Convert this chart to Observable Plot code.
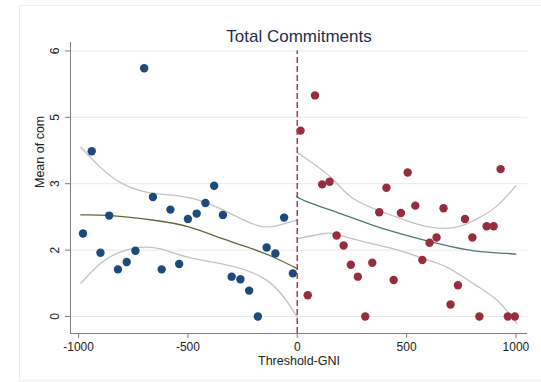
<!DOCTYPE html>
<html>
<head>
<meta charset="utf-8">
<script src="https://cdn.jsdelivr.net/npm/d3@7"></script>
<script src="https://cdn.jsdelivr.net/npm/@observablehq/plot@0.6"></script>
<style>
  html, body { margin: 0; padding: 0; background: #fff; }
  #wrap { position: relative; width: 541px; height: 382px; overflow: hidden; }
  #border { position: absolute; left: 19px; top: 5px; width: 540px; height: 376px; border: 1px solid #e9eef3; box-sizing: border-box; pointer-events: none; }
</style>
</head>
<body>
<div id="wrap"><div id="border"></div></div>
<script>
// ---- data (y values in axis-grid units; labels below) ----
const titleText = "Total Commitments";
const xLabel = "Threshold-GNI";
const yLabel = "Mean of com";

const xTicks = [-1000, -500, 0, 500, 1000];
const yTicks = [0, 1, 2, 3, 4];
const yTickLabels = ["0", "2", "3", "5", "6"];

const leftX = [-980, -940, -900, -860, -820, -780, -740, -700, -660, -620, -580, -540, -500, -460, -420, -380, -340, -300, -260, -220, -180, -140, -100, -60, -20];
const leftY = [1.25, 2.49, 0.96, 1.52, 0.71, 0.82, 0.99, 3.74, 1.80, 0.71, 1.61, 0.79, 1.47, 1.55, 1.71, 1.97, 1.53, 0.60, 0.56, 0.39, 0.00, 1.04, 0.95, 1.49, 0.65];

const rightX = [15, 48, 81, 114, 148, 180, 212, 245, 277, 311, 343, 375, 408, 441, 474, 505, 540, 572, 605, 637, 669, 701, 735, 767, 801, 833, 866, 898, 930, 963, 995];
const rightY = [2.80, 0.32, 3.33, 1.99, 2.03, 1.22, 1.07, 0.78, 0.60, 0.00, 0.81, 1.57, 1.94, 0.55, 1.56, 2.17, 1.67, 0.85, 1.11, 1.19, 1.63, 0.18, 0.47, 1.47, 1.19, 0.00, 1.36, 1.36, 2.22, 0.00, 0.00];

const leftFitX = [-990, -855, -656, -497, -339, -181, -92, 0];
const leftFitY = [1.53, 1.52, 1.45, 1.35, 1.17, 0.99, 0.87, 0.72];
const leftUpX = [-990, -901, -810, -686, -549, -420, -305, -182, -91, 0];
const leftUpY = [2.55, 2.25, 2.02, 1.87, 1.82, 1.72, 1.55, 1.37, 1.37, 1.45];
const leftLoX = [-990, -900, -810, -720, -626, -497, -339, -229, -137, -61, 0];
const leftLoY = [0.50, 0.80, 0.97, 1.04, 1.02, 0.89, 0.79, 0.69, 0.54, 0.29, -0.01];

const rightFitX = [0, 30, 197, 350, 503, 655, 808, 960, 1000];
const rightFitY = [1.82, 1.75, 1.55, 1.37, 1.22, 1.09, 0.99, 0.95, 0.94];
const rightUpX = [0, 152, 259, 427, 549, 640, 732, 823, 915, 1000];
const rightUpY = [2.47, 2.10, 1.77, 1.53, 1.39, 1.33, 1.35, 1.47, 1.67, 1.97];
const rightLoX = [0, 122, 198, 351, 473, 579, 686, 808, 915, 1006];
const rightLoY = [1.17, 1.25, 1.22, 1.09, 0.99, 0.87, 0.74, 0.49, 0.24, -0.11];

const cutoff = [0];
const dashTop = 4.0;

// ---- build ----
const pts = (xs, ys) => xs.map((x, i) => ({x, y: ys[i]}));
const xDomain = [-1037, 1053];
const yDomain = [-0.256, 4.127];

const axisColor = "#7d7d7d";
const ciColor = "#c3c3c3";
const font = "'Liberation Sans', Arial, sans-serif";

const chart = Plot.plot({
  width: 541,
  height: 382,
  marginLeft: 70,
  marginRight: 14,
  marginTop: 42,
  marginBottom: 49,
  x: {domain: xDomain},
  y: {domain: yDomain},
  style: {fontFamily: font, fontSize: "12px", background: "transparent", color: "#222"},
  marks: [
    Plot.gridY(yTicks, {stroke: "#e9e9e9", strokeOpacity: 1, strokeWidth: 1}),
    Plot.ruleX([xDomain[0]], {stroke: axisColor, strokeWidth: 1}),
    Plot.ruleY([yDomain[0]], {stroke: axisColor, strokeWidth: 1}),
    Plot.axisX(xTicks, {tickSize: 5, tickPadding: 4, stroke: axisColor, tickFormat: d => String(d), label: null, fill: "#222", fontSize: 12}),
    Plot.axisY(yTicks, {tickSize: 5, tickPadding: 7, tickRotate: -90, stroke: axisColor, tickFormat: d => yTickLabels[d], label: null, fill: "#222", fontSize: 12}),
    Plot.text([yLabel], {frameAnchor: "left", dx: -31, rotate: -90, fontSize: 12.5, fill: "#222"}),
    Plot.text([xLabel], {frameAnchor: "bottom", dy: 31, fontSize: 12.5, fill: "#222"}),
    Plot.text([titleText], {frameAnchor: "top", dy: -13, fontSize: 17, fill: "#1f2d50"}),
    Plot.line(pts(leftUpX, leftUpY), {x: "x", y: "y", stroke: ciColor, strokeWidth: 1.3, curve: "natural"}),
    Plot.line(pts(leftLoX, leftLoY), {x: "x", y: "y", stroke: ciColor, strokeWidth: 1.3, curve: "natural"}),
    Plot.line(pts(rightUpX, rightUpY), {x: "x", y: "y", stroke: ciColor, strokeWidth: 1.3, curve: "natural"}),
    Plot.line(pts(rightLoX, rightLoY), {x: "x", y: "y", stroke: ciColor, strokeWidth: 1.3, curve: "natural"}),
    Plot.line(pts(leftFitX, leftFitY), {x: "x", y: "y", stroke: "#5d6b38", strokeWidth: 1.3, curve: "natural"}),
    Plot.line(pts(rightFitX, rightFitY), {x: "x", y: "y", stroke: "#4c7b76", strokeWidth: 1.3, curve: "natural"}),
    Plot.dot(pts(leftX, leftY), {x: "x", y: "y", r: 4.2, fill: "#1c4a7a", stroke: "none"}),
    Plot.dot(pts(rightX, rightY), {x: "x", y: "y", r: 4.2, fill: "#962d3e", stroke: "none"}),
    Plot.ruleX(cutoff, {y1: yDomain[0], y2: dashTop, stroke: "#b5336a", strokeWidth: 1.5, strokeDasharray: "6,3"})
  ]
});
document.getElementById("wrap").appendChild(chart);
chart.style.position = "absolute";
chart.style.left = "0";
chart.style.top = "0";
</script>
</body>
</html>
